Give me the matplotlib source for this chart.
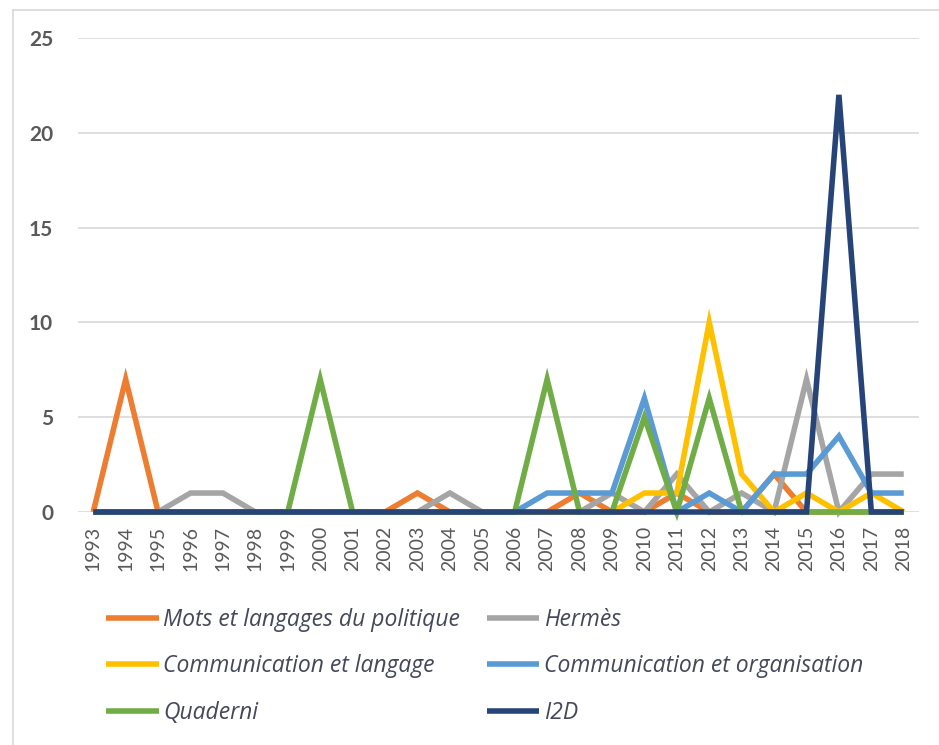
import matplotlib
matplotlib.use("Agg")
import matplotlib.pyplot as plt
from matplotlib.lines import Line2D

years = [str(y) for y in range(1993, 2019)]

mots = [0, 7, 0, 0, 0, 0, 0, 0, 0, 0, 1, 0, 0, 0, 0, 1, 0, 0, 1, 0, 0, 2, 0, 0, 0, 0]
hermes = [0, 0, 0, 1, 1, 0, 0, 0, 0, 0, 0, 1, 0, 0, 0, 0, 1, 0, 2, 0, 1, 0, 7, 0, 2, 2]
comm_lang = [0, 0, 0, 0, 0, 0, 0, 0, 0, 0, 0, 0, 0, 0, 0, 0, 0, 1, 1, 10, 2, 0, 1, 0, 1, 0]
comm_org = [0, 0, 0, 0, 0, 0, 0, 0, 0, 0, 0, 0, 0, 0, 1, 1, 1, 6, 0, 1, 0, 2, 2, 4, 1, 1]
quaderni = [0, 0, 0, 0, 0, 0, 0, 7, 0, 0, 0, 0, 0, 0, 7, 0, 0, 5, 0, 6, 0, 0, 0, 0, 0, 0]
i2d = [0, 0, 0, 0, 0, 0, 0, 0, 0, 0, 0, 0, 0, 0, 0, 0, 0, 0, 0, 0, 0, 0, 0, 22, 0, 0]

series_names = ["Mots et langages du politique", "Hermès", "Communication et langage",
                "Communication et organisation", "Quaderni", "I2D"]
series_values = [mots, hermes, comm_lang, comm_org, quaderni, i2d]
colors = ["#ED7D31", "#A5A5A5", "#FFC000", "#5B9BD5", "#70AD47", "#264478"]

plt.rcParams['font.family'] = ['Lato', 'DejaVu Sans']

fig = plt.figure(figsize=(9.39, 7.45), dpi=100)
ax = fig.add_axes([78/939, 1 - 512/745, (919-78)/939, (512-38)/745])

x = list(range(len(years)))
handles = {}
for name, vals, c in zip(series_names, series_values, colors):
    ln, = ax.plot(x, vals, color=c, lw=4.0, solid_joinstyle='miter', solid_capstyle='butt', clip_on=False)
    handles[name] = ln

ax.set_xlim(-0.47, 25.47)
ax.set_ylim(0, 25)
ax.set_yticks([0, 5, 10, 15, 20, 25])
ax.set_xticks(x)
ax.set_xticklabels(years, rotation=90, fontsize=14, color="#595959")
ax.tick_params(axis='y', labelsize=15, colors="#595959", length=0, pad=18)
ax.tick_params(axis='x', length=0, pad=10)
for lab in ax.get_yticklabels():
    lab.set_fontweight('bold')
ax.grid(axis='y', color="#D9D9D9", lw=1.2)
ax.set_axisbelow(True)
for s in ax.spines.values():
    s.set_visible(False)

# chart frame
fig.add_artist(Line2D([13/939, 13/939], [0, 1 - 10/745], color="#D9D9D9", lw=1.2, transform=fig.transFigure))
fig.add_artist(Line2D([13/939, 1], [1 - 10/745, 1 - 10/745], color="#D9D9D9", lw=1.2, transform=fig.transFigure))

order = [0, 2, 4, 1, 3, 5]
leg = fig.legend([handles[series_names[i]] for i in order], [series_names[i] for i in order],
                 ncol=2, loc='upper left', bbox_to_anchor=(106/939, 1 - 608/745),
                 frameon=False, prop={'family': ['Open Sans', 'DejaVu Sans'], 'style': 'italic', 'size': 16.5},
                 handlelength=2.3, handletextpad=0.2, columnspacing=1.15, labelspacing=0.98,
                 borderaxespad=0, borderpad=0)
for t in leg.get_texts():
    t.set_color("#44485A")

fig.savefig("out.png", dpi=100, facecolor="white")
